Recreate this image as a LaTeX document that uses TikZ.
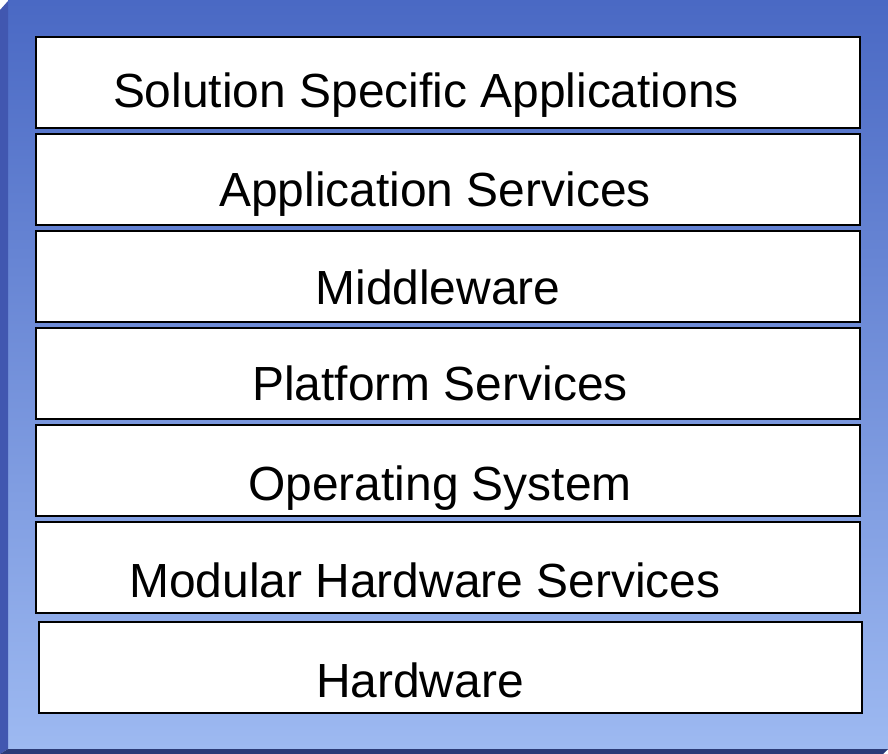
\documentclass[tikz,border=0pt]{standalone}
\usepackage{fontspec}
\setmainfont{Liberation Sans}
\definecolor{facetop}{HTML}{4A69C4}
\definecolor{facebot}{HTML}{9DB9F1}
\definecolor{sidestrip}{HTML}{4157B0}
\definecolor{basestrip}{HTML}{2B3B78}
\tikzset{
  layer/.style={draw=black, line width=2bp, fill=white},
  label/.style={font=\fontsize{48.1}{50}\selectfont, anchor=base, inner sep=0pt, text=black}
}
\begin{document}
\begin{tikzpicture}[x=1bp, y=-1bp]
  \useasboundingbox (0,0) rectangle (888,754);
  % bevelled frame: face, left strip, base strip
  \shade[top color=facetop, bottom color=facebot] (8,1) rectangle (888,749);
  \fill[sidestrip] (0,10) -- (8,1) -- (8,749) -- (0,754) -- cycle;
  \fill[basestrip] (0,754) -- (8,749) -- (888,749) -- (883,754) -- cycle;
  % layer stack
  \draw[layer] (36,37) rectangle (860,128);
  \draw[layer] (36,134) rectangle (860,225);
  \draw[layer] (36,231) rectangle (860,322);
  \draw[layer] (36,328) rectangle (860,419);
  \draw[layer] (36,425) rectangle (860,516);
  \draw[layer] (36,522) rectangle (860,613);
  \draw[layer] (39,622) rectangle (862,713);
  \node[label] (l1) at (426,107) {Solution Specific Applications};
  \node[label] (l2) at (435,206) {Application Services};
  \node[label] (l3) at (438,304) {Middleware};
  \node[label] (l4) at (440,400) {Platform Services};
  \node[label] (l5) at (440,500) {Operating System};
  \node[label] (l6) at (425,597) {Modular Hardware Services};
  \node[label] (l7) at (420,697) {Hardware};
\end{tikzpicture}
\end{document}
